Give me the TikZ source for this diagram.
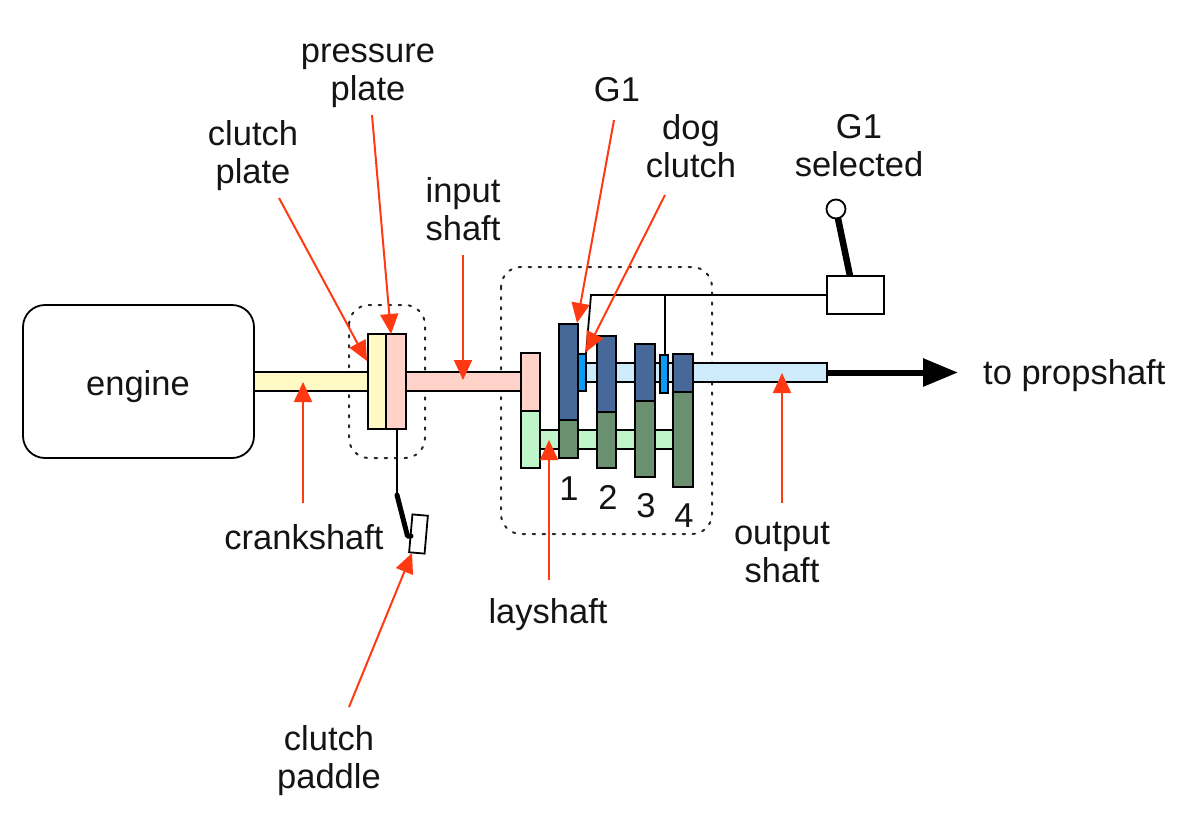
\documentclass[tikz,border=0pt]{standalone}
\usepackage{fontspec}
\setmainfont{Liberation Sans}
\usetikzlibrary{arrows.meta,calc}
\definecolor{gearblue}{HTML}{46699A}
\definecolor{geargreen}{HTML}{6B9070}
\definecolor{lpink}{HTML}{FFD2CA}
\definecolor{lyellow}{HTML}{FFF9C6}
\definecolor{lgreen}{HTML}{BFF5C8}
\definecolor{lblue}{HTML}{CDEBFB}
\definecolor{dogblue}{HTML}{0A9CF5}
\definecolor{redarrow}{HTML}{FF3A12}
\tikzset{
  x=1pt,y=-1pt,
  part/.style={draw=black,line width=1.8pt,inner sep=0pt,outer sep=0pt,rectangle},
  lbl/.style={font=\fontsize{34.5}{38}\selectfont,align=center,inner sep=0pt,text=black!92},
  callout/.style={draw=redarrow,line width=2pt,-{Triangle[length=20pt,width=18pt,fill=redarrow]}},
  dotbox/.style={draw=black!85,line width=2pt,dash pattern=on 2.4pt off 7.6pt,line cap=round},
  link/.style={draw=black,line width=1.8pt},
  heavy/.style={draw=black,line width=6.5pt}
}
\newcommand{\pbox}[6]{%
  \pgfmathsetmacro{\bw}{#4-#2}\pgfmathsetmacro{\bh}{#5-#3}%
  \pgfmathsetmacro{\cx}{(#2+#4)/2}\pgfmathsetmacro{\cy}{(#3+#5)/2}%
  \node[part,#6,minimum width=\bw pt,minimum height=\bh pt] (#1) at (\cx,\cy) {};}
\begin{document}
\begin{tikzpicture}
\useasboundingbox (0,0) rectangle (1200,823);
% dotted enclosures
\draw[dotbox,rounded corners=20pt] (349,305) rectangle (425,458);
\draw[dotbox,rounded corners=20pt] (501,267) rectangle (712,534);
% engine
\node[part,rounded corners=22pt,minimum width=231pt,minimum height=153pt] (engine) at (138.5,381.5) {};
\node[lbl] (engineL) at (138,387) {engine};
% shafts
\pbox{crank}{254}{372}{368}{391}{fill=lyellow}
\pbox{input}{406}{372}{521}{391}{fill=lpink}
\pbox{lay}{540}{430}{673}{449}{fill=lgreen}
\pbox{output}{578}{363}{827}{382}{fill=lblue}
% clutch
\pbox{cplate}{368}{334}{386}{429}{fill=lyellow}
\pbox{pplate}{386}{334}{406}{429}{fill=lpink}
% input gears
\pbox{ing}{521}{353}{540}{411}{fill=lpink}
\pbox{ingl}{521}{411}{540}{468}{fill=lgreen}
% gears
\pbox{ga}{559}{324}{578}{420}{fill=gearblue}
\pbox{gal}{559}{420}{578}{458}{fill=geargreen}
\pbox{gb}{597}{336}{616}{412}{fill=gearblue}
\pbox{gbl}{597}{412}{616}{468}{fill=geargreen}
\pbox{gc}{635}{344}{655}{401}{fill=gearblue}
\pbox{gcl}{635}{401}{655}{477}{fill=geargreen}
\pbox{gd}{673}{354}{693}{392}{fill=gearblue}
\pbox{gdl}{673}{392}{693}{487}{fill=geargreen}
% dog clutches
\pbox{doga}{578}{354}{586}{391}{fill=dogblue}
\pbox{dogb}{660}{355}{668}{393}{fill=dogblue}
% selector
\pbox{selbox}{827}{276}{884}{314}{fill=white}
\node[draw=black,line width=1.8pt,circle,fill=white,minimum size=19pt,inner sep=0pt,outer sep=0pt] (knob) at (836,209) {};
\coordinate (levfoot) at (850,276);
\draw[heavy] (knob) -- (levfoot);
\coordinate (selcorner) at (591,295);
\coordinate (selbranch) at (665,295);
\draw[link] (selbox.west |- 0,295) -- (selcorner) -- (doga.north east);
\draw[link] (selbranch) -- (selbranch |- dogb.north);
% clutch pedal
\coordinate (pedtop) at (397,429);
\coordinate (pedknee) at (397,495);
\coordinate (pedfoot) at (407.5,536);
\coordinate (pedend) at (411,536);
\node[part,fill=white,rotate=-5,minimum width=15.5pt,minimum height=38pt] (paddle) at (418.5,534) {};
\draw[link] (pedtop) -- (pedknee);
\draw[draw=black,line width=5pt,line cap=round,line join=round] (pedknee) -- (pedfoot) -- (pedend);
% output arrow
\coordinate (proptip) at (958,372.5);
\draw[draw=black,line width=6pt,-{Triangle[length=35pt,width=27pt,fill=black]}] (output.east) -- (proptip);
% labels
\node[lbl] (lpressure) at (368,76) {pressure\\plate};
\node[lbl] (lclutch) at (253,156) {clutch\\plate};
\node[lbl] (linput) at (463,209) {input\\shaft};
\node[lbl] (lg) at (617,90) {G1};
\node[lbl] (ldog) at (691,146) {dog\\clutch};
\node[lbl] (lsel) at (859,146) {G1\\selected};
\node[lbl,anchor=west] (lprop) at (983,376) {to propshaft};
\node[lbl] (lcrank) at (304,537) {crankshaft};
\node[lbl] (llay) at (548,615) {layshaft};
\node[lbl] (lout) at (782,553) {output\\shaft};
\node[lbl] (lpaddle) at (329,761) {clutch\\paddle};
\node[lbl] (n1) at (569,489) {1};
\node[lbl] (n2) at (608,497) {2};
\node[lbl] (n3) at (646,506) {3};
\node[lbl] (n4) at (684,516) {4};
% callouts
\coordinate (a1) at (279,198); \coordinate (b1) at (367,361);
\coordinate (a2) at (372,115); \coordinate (b2) at (391,334);
\coordinate (a3) at (463,255); \coordinate (b3) at (463,380);
\coordinate (a4) at (614,120); \coordinate (b4) at (577,323);
\coordinate (a5) at (665,195); \coordinate (b5) at (586,352);
\coordinate (a6) at (303,503); \coordinate (b6) at (303,382);
\coordinate (a7) at (549,580); \coordinate (b7) at (549,440);
\coordinate (a8) at (782,503); \coordinate (b8) at (782,373);
\coordinate (a9) at (349,707); \coordinate (b9) at (412,553);
\foreach \i in {1,...,9} {\draw[callout] (a\i) -- (b\i);}
\end{tikzpicture}
\end{document}
